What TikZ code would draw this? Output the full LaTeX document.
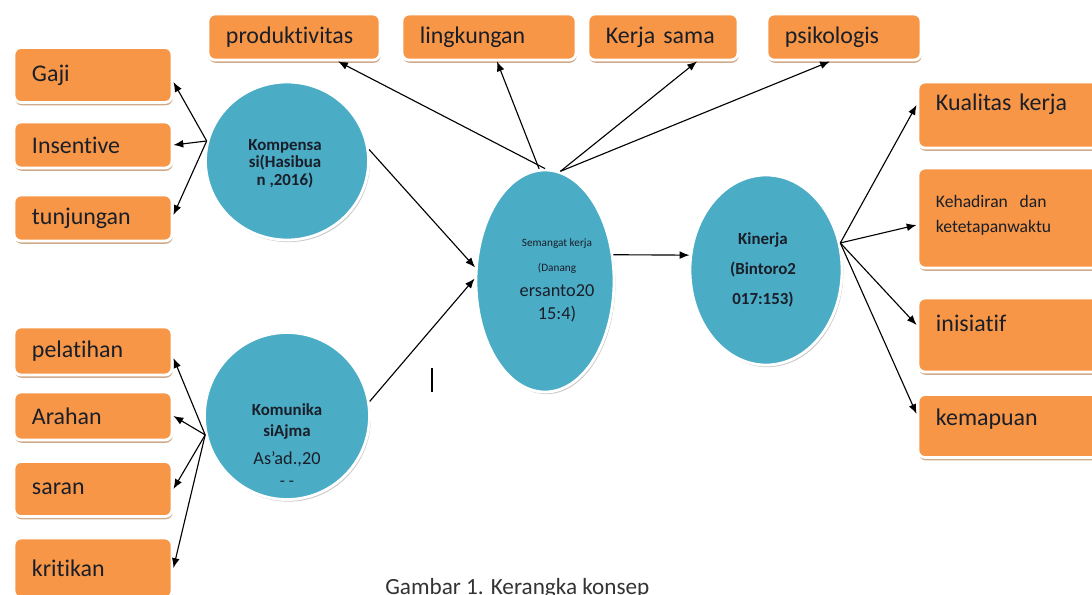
\documentclass[tikz,border=0pt]{standalone}
\usepackage{fontspec}
\setmainfont{Carlito}[Ligatures=NoCommon]
\definecolor{myorange}{RGB}{247,150,70}
\definecolor{myblue}{RGB}{75,172,198}
\definecolor{mytan}{RGB}{196,150,110}
\definecolor{mytext}{RGB}{25,30,40}
\usetikzlibrary{arrows.meta,positioning,shapes,shadows,calc}

\begin{document}
\begin{tikzpicture}[x=0.025cm,y=-0.025cm,
    box/.style={rectangle,rounded corners=5pt,fill=myorange,draw=white,line width=2pt,
        drop shadow={shadow xshift=0.5pt,shadow yshift=-2pt,fill=mytan,opacity=0.8},
        align=left,inner xsep=0.45cm,inner ysep=0pt,text=mytext,
        font=\fontsize{17}{21}\selectfont},
    bubble/.style={ellipse,fill=myblue,draw=white,line width=2pt,inner sep=0pt,
        drop shadow={shadow xshift=1pt,shadow yshift=-1.5pt,fill=black!35,opacity=0.6}},
    bubtext/.style={anchor=north,inner sep=0pt,align=center,text=mytext},
    arr/.style={-{Latex[length=7pt,width=5.5pt]},line width=0.8pt}
    ]
    \useasboundingbox (0,0) rectangle (1092,594);

    % left boxes
    \node[box,text width=3.05cm,minimum height=1.375cm] (gaji) at (93,75) {Gaji};
    \node[box,text width=3.05cm,minimum height=1.15cm] (insen) at (93,145) {Insentive};
    \node[box,text width=3.05cm,minimum height=1.15cm] (tunj) at (93,218) {tunjungan};
    \node[box,text width=3.05cm,minimum height=1.2cm] (pelat) at (93,351) {pelatihan};
    \node[box,text width=3.05cm,minimum height=1.2cm] (arahan) at (93,416) {Arahan};
    \node[box,text width=3.05cm,minimum height=1.375cm] (saran) at (93,489) {saran};
    \node[box,text width=3.05cm,minimum height=1.5cm] (kritik) at (93,568) {kritikan};

    % top boxes
    \node[box,text width=3.4cm,minimum height=1.15cm] (prod) at (294,37) {produktivitas};
    \node[box,text width=3.45cm,minimum height=1.15cm] (lingk) at (489,37) {lingkungan};
    \node[box,text width=2.85cm,minimum height=1.15cm] (kerja) at (663,37) {Kerja sama};
    \node[box,text width=2.95cm,minimum height=1.15cm] (psiko) at (844,37) {psikologis};

    % right boxes
    \node[box,text width=3.65cm,minimum height=1.65cm,text depth=18pt] (kual) at (1009,115) {Kualitas kerja};
    \node[box,text width=3.65cm,minimum height=2.5cm,text depth=24pt,
        font=\fontsize{12.5}{17.8}\selectfont] (kehad) at (1009,218) {Kehadiran\ \ dan\\ketetapanwaktu};
    \node[box,text width=3.65cm,minimum height=1.85cm,text depth=17pt] (inis) at (1009,335) {inisiatif};
    \node[box,text width=3.65cm,minimum height=1.575cm,text depth=12pt] (kemap) at (1009,426) {kemapuan};

    % circles
    \node[bubble,minimum width=4.075cm,minimum height=3.95cm] (komp) at (287,161) {};
    \node[bubble,minimum width=4.125cm,minimum height=4.175cm] (komu) at (287,416) {};
    \node[bubble,minimum width=3.45cm,minimum height=5.55cm] (sem) at (545,281) {};
    \node[bubble,minimum width=3.8cm,minimum height=4.75cm] (kin) at (766,270) {};

    \node[bubtext,font=\fontsize{12}{12.5}\selectfont\bfseries] (komp-t) at (285,139)
        {Kompensa\\si(Hasibua\\n ,2016)};
    \node[bubtext,font=\fontsize{12}{15}\selectfont] (komu-t) at (287,403)
        {\textbf{Komunika}\\\textbf{siAjma}\\[5pt]{\fontsize{13}{15}\selectfont As’ad.,20}\\[1pt]- -};
    \node[bubtext,font=\fontsize{8}{17.8}\selectfont] (sem-t) at (557,238)
        {Semangat kerja\\(Danang\\{\fontsize{13}{15}\selectfont ersanto20}\\[-1.4pt]{\fontsize{13}{15}\selectfont 15:4)}};
    \node[bubtext,font=\fontsize{12}{21.3}\selectfont\bfseries] (kin-t) at (763,232)
        {Kinerja\\(Bintoro2\\017:153)};

    \node[anchor=base west,inner sep=0pt,text=black!80,font=\fontsize{16.5}{18}\selectfont]
        (caption) at (385,594) {Gambar 1. Kerangka konsep};
    \coordinate (cursor) at (432,368);

    % the edges
    \draw[arr] (komp.166) -- ([yshift=-0.175cm]gaji.east);
    \draw[arr] (komp.166) -- (insen.east);
    \draw[arr] (komp.166) -- ([yshift=0.075cm]tunj.east);
    \draw[arr] (komu.193) -- ([yshift=-0.175cm]pelat.east);
    \draw[arr] (komu.193) -- (arahan.east);
    \draw[arr] (komu.193) -- (saran.east);
    \draw[arr] (komu.193) -- (kritik.east);
    \draw[arr] (komp.8) -- (sem.169);
    \draw[arr] (komu.10) -- (sem.178);
    \draw[arr] (sem.north) -- ([xshift=1.1cm]prod.south);
    \draw[arr] (sem.93) -- ([xshift=0.2cm]lingk.south);
    \draw[arr] (sem.82) -- ([xshift=0.85cm]kerja.south);
    \draw[arr] (sem.82) -- ([xshift=-0.35cm]psiko.south);
    \draw[arr] (sem.21) -- (kin.169);
    \draw[arr] (kin.20) -- ([yshift=0.25cm]kual.west);
    \draw[arr] (kin.20) -- ([yshift=-0.175cm]kehad.west);
    \draw[arr] (kin.20) -- ([yshift=0.25cm]inis.west);
    \draw[arr] (kin.20) -- ([yshift=0.3cm]kemap.west);
    \draw[line width=1pt] (cursor) -- ++(0,24);
\end{tikzpicture}
\end{document}
